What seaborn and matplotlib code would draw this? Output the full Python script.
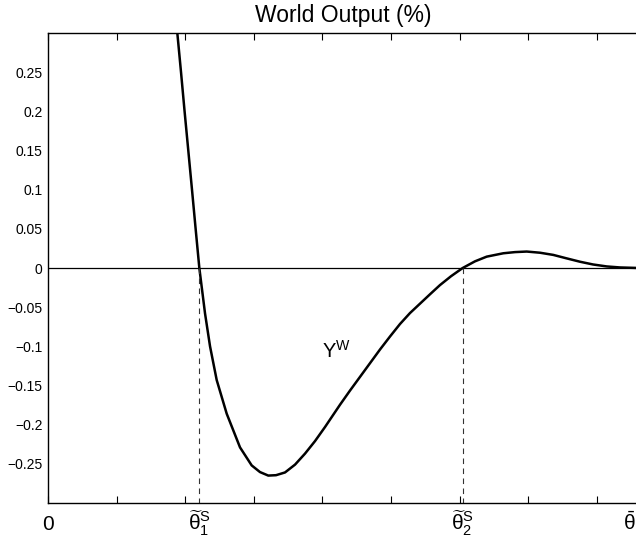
import numpy as np
import pandas as pd
import seaborn as sns
import matplotlib
matplotlib.use("Agg")
import matplotlib.pyplot as plt

# Curve (x in tick units, y in %)
theta = [1.853, 1.885, 1.939, 1.991, 2.045, 2.099, 2.152, 2.206, 2.289, 2.362,
         2.459, 2.605, 2.799, 2.969, 3.090, 3.211, 3.324, 3.455, 3.601, 3.746,
         3.892, 4.038, 4.257, 4.402, 4.548, 4.694, 4.840, 4.985, 5.131, 5.277,
         5.423, 5.569, 5.714, 5.875, 6.045, 6.224, 6.395, 6.637, 6.808, 6.978,
         7.172, 7.366, 7.551, 7.755, 7.945, 8.144, 8.338, 8.615]
world_output = [0.330, 0.300, 0.250, 0.200, 0.150, 0.100, 0.050, 0.000, -0.058, -0.100,
                -0.143, -0.186, -0.229, -0.252, -0.2605, -0.265, -0.2645, -0.261, -0.251, -0.237,
                -0.221, -0.203, -0.1745, -0.1565, -0.139, -0.1215, -0.104, -0.0875, -0.0715, -0.0575,
                -0.0455, -0.0335, -0.0218, -0.0105, 0.000, 0.0085, 0.0145, 0.0188, 0.0203, 0.021,
                0.0195, 0.0167, 0.0125, 0.008, 0.0045, 0.002, 0.0007, 0.000]

theta1_s = 2.205
theta2_s = 6.045
theta_bar = 8.615

ytick_vals = [-0.25, -0.2, -0.15, -0.1, -0.05, 0, 0.05, 0.1, 0.15, 0.2, 0.25]
ytick_labels = ["\u22120.25", "\u22120.2", "\u22120.15", "\u22120.1", "\u22120.05", "0",
                "0.05", "0.1", "0.15", "0.2", "0.25"]
xtick_vals = [0, theta1_s, theta2_s]
xtick_labels = ["0", r"$\widetilde{\theta}_1^{\mathregular{S}}$",
                r"$\widetilde{\theta}_2^{\mathregular{S}}$"]

sns.set_style("white")
plt.rcParams["font.family"] = ["Liberation Sans", "DejaVu Sans"]
plt.rcParams["mathtext.fontset"] = "custom"
plt.rcParams["mathtext.rm"] = "Liberation Sans"
plt.rcParams["mathtext.it"] = "Liberation Sans"
plt.rcParams["mathtext.bf"] = "Liberation Sans:bold"
for key in ["text.color", "axes.labelcolor", "xtick.color", "ytick.color"]:
    plt.rcParams[key] = "black"

df = pd.DataFrame({"theta": theta, "Y": world_output})

fig = plt.figure(figsize=(6.36, 5.45), dpi=100)
ax = fig.add_axes([48 / 636, 1 - 503 / 545, (639 - 48) / 636, (503 - 33) / 545])

sns.lineplot(data=df, x="theta", y="Y", color="black", linewidth=1.8, ax=ax)
ax.axhline(0, color="black", linewidth=0.9)
for xv in [theta1_s, theta2_s]:
    ax.plot([xv, xv], [0, -0.3], color="#333333", linewidth=0.8, linestyle=(0, (5, 4)))

ax.text(4.0, -0.114, r"$\mathregular{Y^W}$", fontsize=14.5, ha="left", va="baseline")

ax.set_xlim(0, theta_bar)
ax.set_ylim(-0.3, 0.3)
ax.set_yticks(ytick_vals, ytick_labels)
ax.set_xticks(range(0, 9))
ax.set_xticklabels([])
ax.xaxis.remove_overlapping_locs = False
ax.set_xticks(xtick_vals, xtick_labels, minor=True)
ax.tick_params(axis="x", which="minor", length=0, labelsize=15, pad=19.5)
for lab in ax.get_xticklabels(minor=True):
    lab.set_verticalalignment("baseline")
ax.tick_params(axis="x", which="major", direction="in", length=5, width=0.8,
               top=True, bottom=True)
ax.tick_params(axis="y", direction="in", length=5, width=0.8, labelsize=10, pad=4)
ax.set_xlabel("")
ax.set_ylabel("")
for s in ax.spines.values():
    s.set_color("black")
    s.set_linewidth(1.0)

# theta-bar sits at the right end of the axis, at the edge of the figure
ax.text(1.0 - 3 / 591, -27 / 470, r"$\bar{\theta}$", transform=ax.transAxes,
        fontsize=15, ha="right", va="baseline")

ax.set_title("World Output (%)", fontsize=16.5, pad=8)

fig.savefig("out.png", dpi=100)
